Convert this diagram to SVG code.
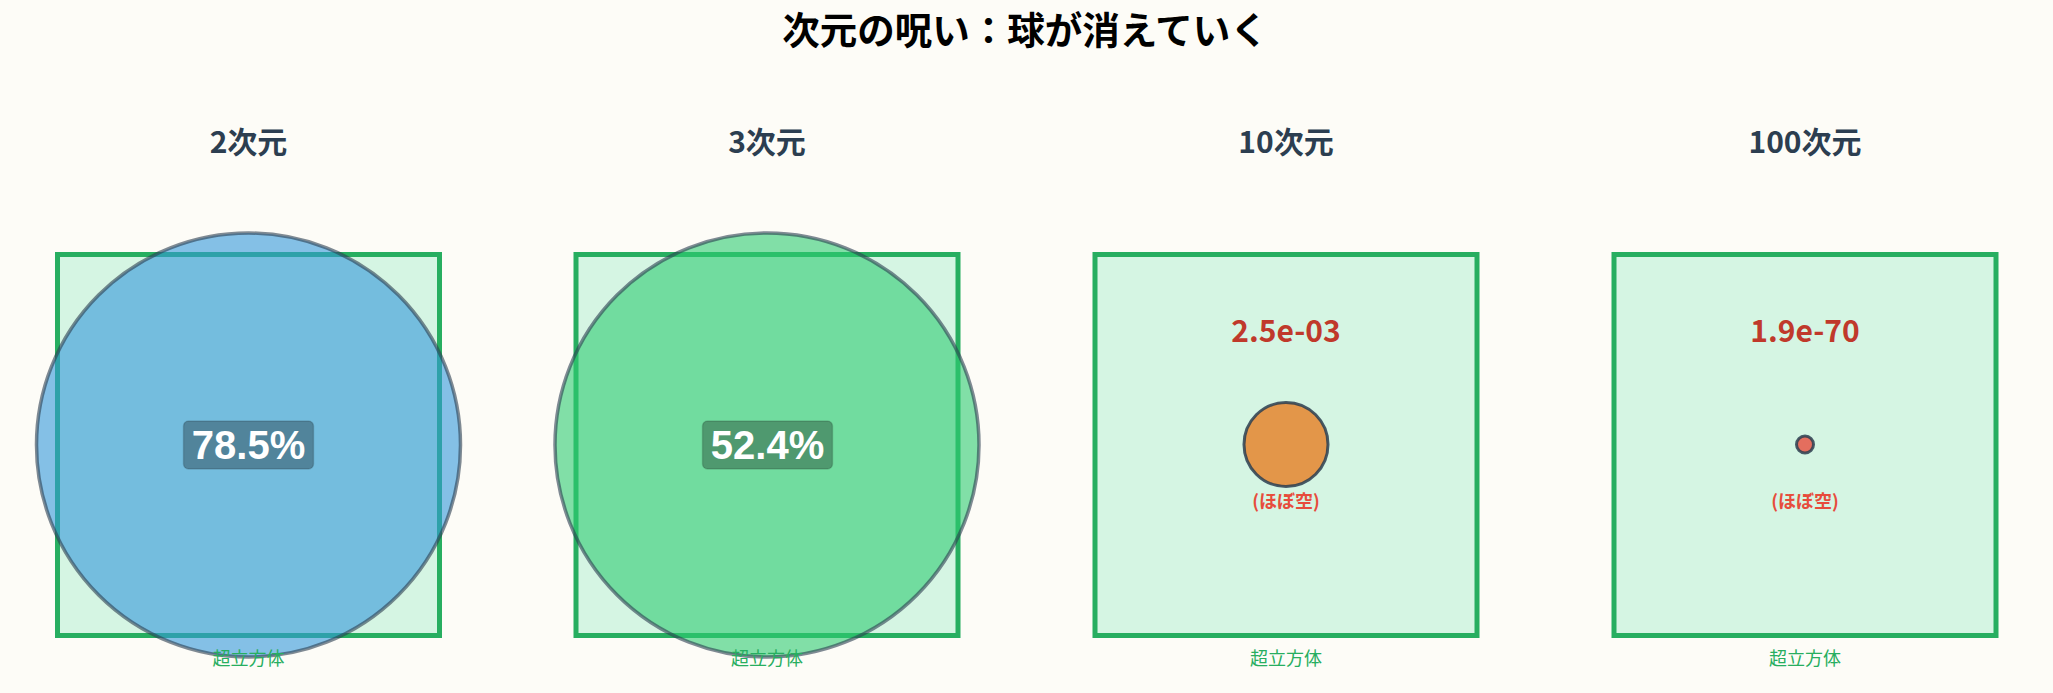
<svg xmlns="http://www.w3.org/2000/svg" width="2053" height="693" viewBox="0 0 2053 693">
<style>
.title{font-family:"Noto Sans CJK JP","Liberation Sans",sans-serif;font-weight:700;font-size:37.5px;fill:#000;text-anchor:middle}
.ptitle{font-family:"Noto Sans CJK JP","Liberation Sans",sans-serif;font-weight:700;font-size:30px;fill:#2c3e50;text-anchor:middle}
.cube{fill:#d5f5e3;stroke:#27ae60;stroke-width:5}
.cubelbl{font-family:"Noto Sans CJK JP",sans-serif;font-size:18px;fill:#27ae60;text-anchor:middle}
.bigsph{fill-opacity:0.6;stroke:#2c3e50;stroke-opacity:0.6;stroke-width:3.5}
.pbox{fill:#000;fill-opacity:0.3;stroke:#000;stroke-opacity:0.15;stroke-width:1.5}
.pct{font-family:"Liberation Sans",Arial,sans-serif;font-weight:700;font-size:40px;fill:#fff;text-anchor:middle}
.val{font-family:"Noto Sans CJK JP","Liberation Sans",sans-serif;font-weight:700;font-size:30px;fill:#c0392b;text-anchor:middle}
.empty{font-family:"Noto Sans CJK JP",sans-serif;font-weight:700;font-size:18px;fill:#e74c3c;text-anchor:middle}
.smsph{fill-opacity:0.8;stroke:#2c3e50;stroke-opacity:0.85;stroke-width:3}
</style>
<rect width="2053" height="693" fill="#fdfcf7"/>
<text class="title" x="1025" y="44">次元の呪い：球が消えていく</text>

<g id="panel-2d">
<text class="ptitle" x="248.5" y="153">2次元</text>
<rect class="cube" x="57.5" y="254.5" width="382" height="381"/>
<circle class="bigsph" cx="248.5" cy="445" r="212" fill="#3498db"/>
<rect class="pbox" x="183.5" y="421" width="130" height="48" rx="5"/>
<text class="pct" x="248.5" y="459">78.5%</text>
<text class="cubelbl" x="248.5" y="665">超立方体</text>
</g>

<g id="panel-3d">
<text class="ptitle" x="767" y="153">3次元</text>
<rect class="cube" x="576" y="254.5" width="382" height="381"/>
<circle class="bigsph" cx="767" cy="445" r="212" fill="#2ecc71"/>
<rect class="pbox" x="702.5" y="421" width="130" height="48" rx="5"/>
<text class="pct" x="767.5" y="459">52.4%</text>
<text class="cubelbl" x="767" y="665">超立方体</text>
</g>

<g id="panel-10d">
<text class="ptitle" x="1286" y="153">10次元</text>
<rect class="cube" x="1095" y="254.5" width="382" height="381"/>
<text class="val" x="1286" y="342">2.5e-03</text>
<circle class="smsph" cx="1286" cy="444.5" r="42" fill="#e67e22"/>
<text class="empty" x="1286" y="508">(ほぼ空)</text>
<text class="cubelbl" x="1286" y="665">超立方体</text>
</g>

<g id="panel-100d">
<text class="ptitle" x="1805" y="153">100次元</text>
<rect class="cube" x="1614" y="254.5" width="382" height="381"/>
<text class="val" x="1805" y="342">1.9e-70</text>
<circle class="smsph" cx="1805" cy="444.5" r="8.5" fill="#e74c3c"/>
<text class="empty" x="1805" y="508">(ほぼ空)</text>
<text class="cubelbl" x="1805" y="665">超立方体</text>
</g>

<g id="connectors"></g>
</svg>
